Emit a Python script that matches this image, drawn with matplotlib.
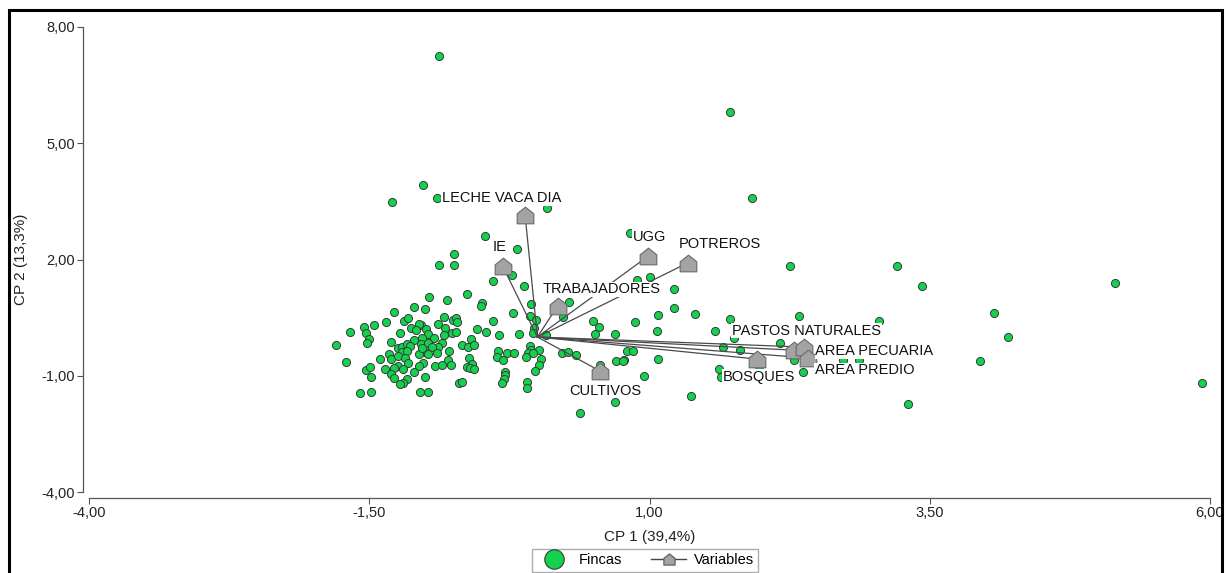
import matplotlib
matplotlib.use('Agg')
import matplotlib.pyplot as plt
from matplotlib.path import Path
from matplotlib.patches import Rectangle
from matplotlib.lines import Line2D
from matplotlib.ticker import FuncFormatter

plt.rcParams['font.family'] = ['Liberation Sans', 'DejaVu Sans']

# scores de las fincas (CP1, CP2)
fincas_cp1 = [
    -0.88, 1.72, -1.02, -1.30, -0.90, 0.09, 1.91, -0.47, -0.18, 0.83,
    -0.74, -0.88, -0.74, -0.40, -0.23, -0.12, 0.89, 1.00, 1.22,
    2.25, 3.21, 3.43, 5.15, 4.07, 4.20, 3.95, 5.93, 3.31, 3.05, 2.87, 2.73,
    1.22, 1.08, 1.41, 0.87, 1.07, 1.58, 1.72, 2.33, 1.75, 2.16, 1.66, 1.81,
    0.80, 0.85, 0.77, 1.08, 2.29, 1.62, 1.64, 2.37, 0.95, 1.37, 1.98,
    -0.06, 0.28, 0.23, -0.07, -0.01, -0.03, -0.16, -0.04, 0.08, 0.50,
    0.55, 0.51, 0.69, -0.07, -0.06, 0.01, -0.08, -0.04, -0.10, 0.03,
    0.22, 0.27, 0.34, 0.01, -0.02, -0.09, -0.09, 0.70, 0.76, 0.69, 0.38, 0.56,
    -0.63, -0.97, -0.81, -0.49, -0.50, -1.00, -0.83, -0.75, -0.73, -0.72,
    -0.40, -0.22, -0.89, -0.82, -1.04, -0.99, -0.54, -0.46, -0.34, -0.76,
    -0.73, -0.98, -0.92, -0.83, -1.03, -0.59, -1.04, -0.98, -0.85, -0.89,
    -0.94, -0.67, -0.62, -0.57, -1.00, -0.90, -0.79, -0.98, -0.35, -0.27,
    -0.21, -0.36, -0.31, -0.80, -1.02, -0.91, -0.85, -0.77, -0.61, -0.58,
    -0.63, -0.60, -0.57, -0.29, -0.29, -0.30, -0.32, -1.00, -0.70, -0.67,
    -1.05, -0.98,
    -1.28, -1.10, -1.67, -1.55, -1.46, -1.35, -1.53, -1.50, -1.52, -1.80,
    -1.19, -1.15, -1.13, -1.23, -1.06, -1.08, -1.10, -1.31, -1.24, -1.21,
    -1.16, -1.14, -1.21, -1.16, -1.32, -1.31, -1.24, -1.18, -1.15, -1.06,
    -1.03, -1.40, -1.71, -1.24, -1.28, -1.36, -1.20, -1.31, -1.10, -1.06,
    -1.53, -1.49, -1.48, -1.28, -1.16, -1.20, -1.23, -1.58, -1.48,
]
fincas_cp2 = [
    7.25, 5.81, 3.92, 3.48, 3.59, 3.33, 3.59, 2.61, 2.27, 2.68,
    2.14, 1.86, 1.86, 1.45, 1.60, 1.32, 1.47, 1.55, 1.24,
    1.83, 1.83, 1.32, 1.39, 0.62, 0.00, -0.62, -1.19, -1.73, 0.41, -0.59, -0.59,
    0.75, 0.57, 0.59, 0.39, 0.15, 0.15, 0.46, 0.54, -0.03, -0.15, -0.26, -0.34,
    -0.36, -0.36, -0.59, -0.57, -0.59, -0.83, -1.03, -0.90, -1.01, -1.52, -0.75,
    0.85, 0.90, 0.52, 0.54, 0.44, 0.23, 0.08, 0.10, 0.05, 0.41,
    0.26, 0.08, 0.08, -0.23, -0.34, -0.34, -0.41, -0.41, -0.52, -0.57,
    -0.41, -0.39, -0.46, -0.72, -0.88, -1.16, -1.32, -0.62, -0.62, -1.68, -1.96, -0.72,
    1.11, 1.03, 0.95, 0.88, 0.80, 0.72, 0.52, 0.44, 0.49, 0.39,
    0.41, 0.62, 0.34, 0.23, 0.31, 0.21, 0.21, 0.13, 0.05, 0.10,
    0.13, 0.08, -0.03, 0.05, -0.03, -0.05, -0.18, -0.15, -0.15, -0.26,
    -0.26, -0.21, -0.26, -0.21, -0.39, -0.41, -0.36, -0.44, -0.36, -0.41,
    -0.41, -0.52, -0.59, -0.59, -0.67, -0.75, -0.72, -0.72, -0.54, -0.70,
    -0.77, -0.80, -0.83, -0.90, -0.98, -1.08, -1.19, -1.03, -1.19, -1.16,
    -1.42, -1.42,
    0.65, 0.77, 0.13, 0.26, 0.31, 0.39, 0.10, -0.05, -0.15, -0.21,
    0.41, 0.49, 0.23, 0.10, 0.34, 0.18, -0.08, -0.13, -0.28, -0.26,
    -0.18, -0.23, -0.39, -0.36, -0.44, -0.57, -0.49, -0.54, -0.67, -0.44,
    -0.28, -0.57, -0.65, -0.75, -0.80, -0.83, -0.83, -0.95, -0.90, -0.75,
    -0.85, -0.77, -1.03, -1.06, -1.08, -1.19, -1.21, -1.45, -1.42,
]

# vectores de las variables
variables = ['LECHE VACA DIA', 'IE', 'UGG', 'POTREROS', 'TRABAJADORES',
             'CULTIVOS', 'BOSQUES', 'PASTOS NATURALES', 'AREA PECUARIA',
             'AREA PREDIO']
var_cp1 = [-0.11, -0.31, 0.99, 1.34, 0.18, 0.56, 1.96, 2.29, 2.38, 2.41]
var_cp2 = [3.15, 1.83, 2.09, 1.91, 0.80, -0.88, -0.57, -0.34, -0.26, -0.54]

# desplazamiento de cada etiqueta (pt) y alineacion
label_offsets = [(-17, 12), (-2, 14), (1, 14), (23, 14), (32, 12),
                 (4, -14), (1, -13), (9, 14), (8, -3), (5, -9)]
label_ha = ['center'] * 8 + ['left', 'left']

verde = '#12d24e'
gris = '#a3a3a3'
casa = Path([(-1, -1), (1, -1), (1, 0.2), (0, 1), (-1, 0.2), (-1, -1)],
            [Path.MOVETO] + [Path.LINETO] * 4 + [Path.CLOSEPOLY])

fig = plt.figure(figsize=(12.27, 5.73), dpi=100)
ax = fig.add_axes([89 / 1227, 1 - 492 / 573, 1121 / 1227, 465 / 573])

ax.scatter(fincas_cp1, fincas_cp2, s=34, color=verde, edgecolors='#3a3a3a',
           linewidths=0.7, zorder=2)

for x, y in zip(var_cp1, var_cp2):
    ax.plot([0, x], [0, y], color='#4a4a4a', lw=0.9, zorder=3)
ax.plot(var_cp1, var_cp2, ls='none', marker=casa, markersize=12,
        markerfacecolor=gris, markeredgecolor='#6a6a6a', markeredgewidth=0.8,
        zorder=4)

for name, x, y, off, ha in zip(variables, var_cp1, var_cp2, label_offsets, label_ha):
    ax.annotate(name, (x, y), xytext=off, textcoords='offset points',
                ha=ha, va='center', fontsize=10.5, color='#111111', zorder=5,
                bbox=dict(facecolor='white', edgecolor='none', pad=0.5))

ax.set_xlim(-4, 6)
ax.set_ylim(-4, 8)
ax.set_xticks([-4, -1.5, 1, 3.5, 6])
ax.set_yticks([-4, -1, 2, 5, 8])
fmt = FuncFormatter(lambda v, p: f'{v:.2f}'.replace('.', ','))
ax.xaxis.set_major_formatter(fmt)
ax.yaxis.set_major_formatter(fmt)
ax.tick_params(labelsize=10.5, length=4, width=0.8, color='#555555',
               labelcolor='#222222', pad=2)

for side in ['top', 'right']:
    ax.spines[side].set_visible(False)
for side in ['left', 'bottom']:
    ax.spines[side].set_position(('outward', 4))
    ax.spines[side].set_color('#555555')
    ax.spines[side].set_linewidth(0.9)

ax.set_xlabel('CP 1 (39,4%)', fontsize=11, color='#222222')
ax.set_ylabel('CP 2 (13,3%)', fontsize=11, color='#222222')
ax.xaxis.set_label_coords(0.5, -0.082)
ax.yaxis.set_label_coords(-0.054, 0.5)

handles = [
    Line2D([], [], ls='none', marker='o', markersize=14, markerfacecolor=verde,
           markeredgecolor='#3a3a3a', markeredgewidth=0.8),
    Line2D([], [], color='#444444', lw=1, marker=casa, markersize=8,
           markerfacecolor=gris, markeredgecolor='#6a6a6a'),
]
fig.legend(handles, ['Fincas', 'Variables'], loc='upper center',
           bbox_to_anchor=(645 / 1227, 1 - 549 / 573), ncol=2, fontsize=10.5,
           frameon=True, fancybox=False, edgecolor='#999999', borderaxespad=0,
           handlelength=2.4, handletextpad=0.5, columnspacing=2.0,
           borderpad=0.3)

# marco exterior
fig.add_artist(Rectangle((8.5 / 1227, -0.1), 1213 / 1227, 1.1 - 10.5 / 573,
                         transform=fig.transFigure, fill=False,
                         edgecolor='black', linewidth=2.2))

fig.savefig('out.png', dpi=100)
